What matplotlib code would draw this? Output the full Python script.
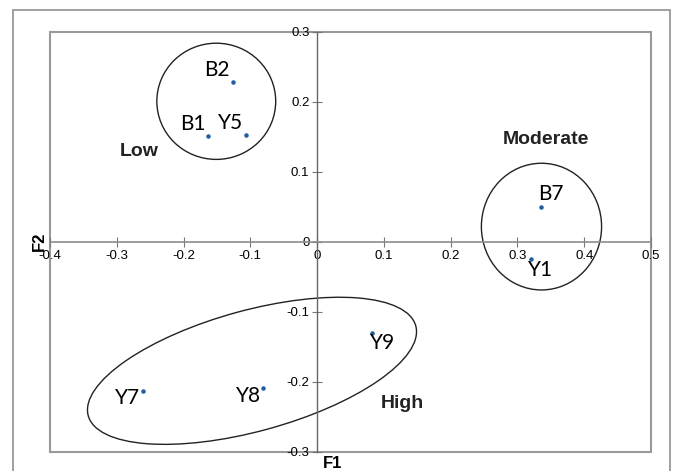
import numpy as np
import matplotlib.pyplot as plt
from matplotlib.patches import Ellipse, Rectangle

# sample scores on the first two factors
names = ['B1', 'B2', 'Y5', 'B7', 'Y1', 'Y9', 'Y8', 'Y7']
f1 = [-0.164, -0.126, -0.107, 0.336, 0.321, 0.0825, -0.081, -0.261]
f2 = [0.151, 0.229, 0.153, 0.050, -0.024, -0.130, -0.209, -0.213]

xticks = [-0.4, -0.3, -0.2, -0.1, 0, 0.1, 0.2, 0.3, 0.4, 0.5]
yticks = [-0.3, -0.2, -0.1, 0, 0.1, 0.2, 0.3]

# label offsets (pixels) from each point
offs = {'B1': (-15, 12), 'B2': (-16, 12), 'Y5': (-15, 12), 'B7': (9, 13),
        'Y1': (9, -11), 'Y9': (10, -10), 'Y8': (-15, -8), 'Y7': (-15, -7)}

fig = plt.figure(figsize=(6.76, 4.71), dpi=100)
# outer frame
fig.add_artist(Rectangle((13/676, -0.1), (670-13)/676, 1.1 - 10/471,
                         transform=fig.transFigure, fill=False,
                         edgecolor='#999999', lw=1.3))

ax = fig.add_axes([50/676, 19/471, 601/676, 420/471])
ax.set_xlim(-0.4, 0.5)
ax.set_ylim(-0.3, 0.3)

for s in ['top', 'right']:
    ax.spines[s].set_visible(False)
ax.spines['left'].set_position(('data', 0))
ax.spines['bottom'].set_position(('data', 0))
ax.spines['left'].set_color('#666666')
ax.spines['bottom'].set_color('#8c8c8c')
ax.spines['left'].set_linewidth(1.0)
ax.spines['bottom'].set_linewidth(1.2)
ax.add_patch(Rectangle((0, 0), 1, 1, transform=ax.transAxes, fill=False,
                       edgecolor='#999999', lw=1.5, clip_on=False, zorder=0))

ax.set_xticks(xticks)
ax.set_yticks(yticks)
ax.set_xticklabels([f'{v:g}' for v in xticks])
ax.set_yticklabels([f'{v:g}' for v in yticks])
ax.tick_params(axis='both', direction='inout', length=7, width=0.8,
               colors='#777777', labelcolor='black', labelsize=9.5, pad=2)
for lab in ax.get_xticklabels() + ax.get_yticklabels():
    lab.set_family('Liberation Sans')

ax.scatter(f1, f2, s=5, color='#1f5f9e', zorder=3)
for n, x, y in zip(names, f1, f2):
    ax.annotate(n, (x, y), xytext=offs[n], textcoords='offset pixels',
                ha='center', va='center', fontsize=15, family='Lato')

# group outlines
ax.add_patch(Ellipse((-0.151, 0.201), 0.178, 0.166, fill=False, ec='#222222', lw=1))
ax.add_patch(Ellipse((0.336, 0.022), 0.18, 0.181, fill=False, ec='#222222', lw=1))
ax.add_patch(Ellipse((-0.0975, -0.184), 0.507, 0.173, angle=14.5, fill=False,
                     ec='#222222', lw=1))

bold = dict(fontsize=14, fontweight='bold', family='Liberation Sans',
            ha='center', va='center', color='#222222')
ax.text(-0.266, 0.130, 'Low', **bold)
ax.text(0.342, 0.146, 'Moderate', **bold)
ax.text(0.128, -0.230, 'High', **bold)

fig.text(333/676, 1 - 464/471, 'F1', fontsize=12, fontweight='bold',
         family='Liberation Sans', ha='center', va='center')
fig.text(39/676, 1 - 241/471, 'F2', fontsize=12, fontweight='bold',
         family='Liberation Sans', ha='center', va='center', rotation=90)

fig.savefig('out.png', dpi=100)
